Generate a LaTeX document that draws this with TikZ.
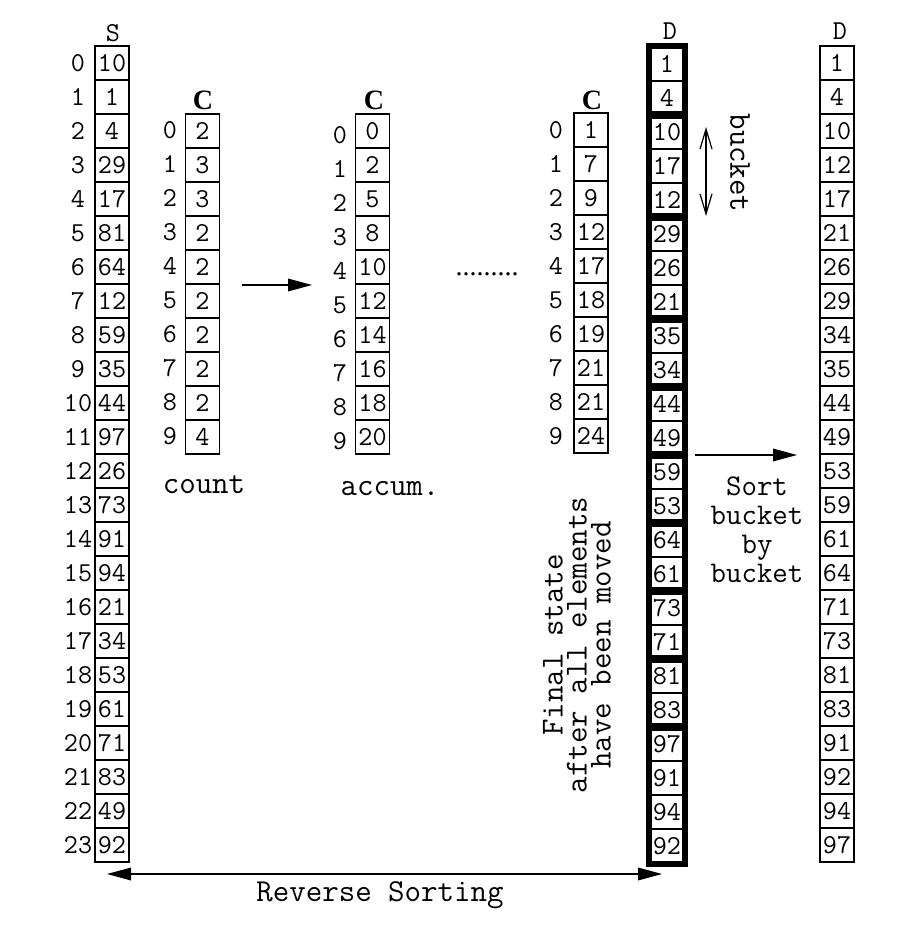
\documentclass[tikz,border=0pt]{standalone}
\usepackage{fontspec}
\newfontfamily\seriffont{Liberation Serif}
\usetikzlibrary{arrows.meta, math}

\tikzset{
cell/.style={draw, line width=0.9pt, minimum width=25.5pt, minimum height=25.5pt, inner sep=0pt, font=\ttfamily\fontsize{20.5}{20.5}\selectfont},
idx/.style={inner sep=0pt, font=\ttfamily\fontsize{20.5}{20.5}\selectfont},
head/.style={inner sep=0pt, font=\ttfamily\fontsize{20.5}{20.5}\selectfont},
chead/.style={inner sep=0pt, font=\seriffont\bfseries\fontsize{21}{21}\selectfont},
lbl/.style={inner sep=0pt, font=\ttfamily\fontsize{24}{21.5}\selectfont},
bucketframe/.style={line width=4.6pt},
arr/.style={line width=0.9pt, -{Triangle[length=18pt, width=9.5pt]}},
}

\begin{document}
\begin{tikzpicture}[x=0.75pt, y=-0.75pt]
\tikzmath{
\h=34;
\sx=112;
\dx=667;
\rx=837;
}
\useasboundingbox (0,0) rectangle (912,930);

% S
\node[head] (shead) at (113,33) {S};
\foreach \v [count=\i from 0] in {10,1,4,29,17,81,64,12,59,35,44,97,26,73,91,94,21,34,53,61,71,83,49,92} {
  \node[cell] (s\i) at (\sx,63+\h*\i) {\v};
  \node[idx] (si\i) at (78,63+\h*\i) {\i};
}

% C: count, accum., final
\node[chead] (chead1) at (203,100) {C};
\node[chead] (chead2) at (374,100) {C};
\node[chead] (chead3) at (592,100) {C};
\foreach \v [count=\i from 0] in {2,3,3,2,2,2,2,2,2,4} {
  \node[cell] (ca\i) at (202.5,131+\h*\i) {\v};
  \node[idx] (cai\i) at (170,130+\h*\i) {\i};
}
\foreach \v [count=\i from 0] in {0,2,5,8,10,12,14,16,18,20} {
  \node[cell] (cb\i) at (372.5,131+\h*\i) {\v};
  \node[idx] (cbi\i) at (340,135+\h*\i) {\i};
}
\foreach \v [count=\i from 0] in {1,7,9,12,17,18,19,21,21,24} {
  \node[cell] (cc\i) at (591,130+\h*\i) {\v};
  \node[idx] (cci\i) at (556,130+\h*\i) {\i};
}
\node[lbl] (count) at (204,485) {count};
\node[lbl] (accum) at (390,489) {accum.};
\node[inner sep=0pt, font=\seriffont\fontsize{21}{21}\selectfont] (dots) at (487,274) {.........};
\coordinate (ab1) at (242,285);
\coordinate (ab2) at (312,285);
\draw[arr] (ab1) -- (ab2);

% D with buckets
\node[head] (dhead) at (670,31) {D};
\foreach \v [count=\i from 0] in {1,4,10,17,12,29,26,21,35,34,44,49,59,53,64,61,73,71,81,83,97,91,94,92} {
  \node[cell] (d\i) at (\dx,64+\h*\i) {\v};
}
\foreach \a/\b in {0/1,2/4,5/7,8/9,10/11,12/13,14/15,16/17,18/19,20/23} {
  \draw[bucketframe] (d\a.north west) rectangle (d\b.south east);
}
\coordinate (bk1) at (706,127);
\coordinate (bk2) at (706,216);
\draw[line width=0.9pt, {Straight Barb[length=15pt, width=9pt]}-{Straight Barb[length=15pt, width=9pt]}] (bk1) -- (bk2);
\node[lbl, rotate=-90] (bucket) at (740,163) {bucket};
\node[lbl, rotate=90, align=center, font=\ttfamily\fontsize{24}{18}\selectfont] (final) at (577,645) {Final state\\after all elements\\have been moved};

% sorted D
\node[head] (rhead) at (840,31) {D};
\foreach \v [count=\i from 0] in {1,4,10,12,17,21,26,29,34,35,44,49,53,59,61,64,71,73,81,83,91,92,94,97} {
  \node[cell] (r\i) at (\rx,63+\h*\i) {\v};
}
\coordinate (sb1) at (695,455);
\coordinate (sb2) at (797,455);
\draw[arr] (sb1) -- (sb2);
\foreach \t [count=\i] in {Sort,bucket,by,bucket} {
  \node[lbl, anchor=base, font=\ttfamily\fontsize{22.5}{22.5}\selectfont] (sort\i) at (757,466+29*\i) {\t};
}

% reverse sorting
\coordinate (rv1) at (107,874);
\coordinate (rv2) at (662,874);
\draw[arr, {Triangle[length=18pt, width=9.5pt]}-{Triangle[length=18pt, width=9.5pt]}] (rv1) -- (rv2);
\node[lbl] (rev) at (380,895) {Reverse Sorting};
\end{tikzpicture}
\end{document}
